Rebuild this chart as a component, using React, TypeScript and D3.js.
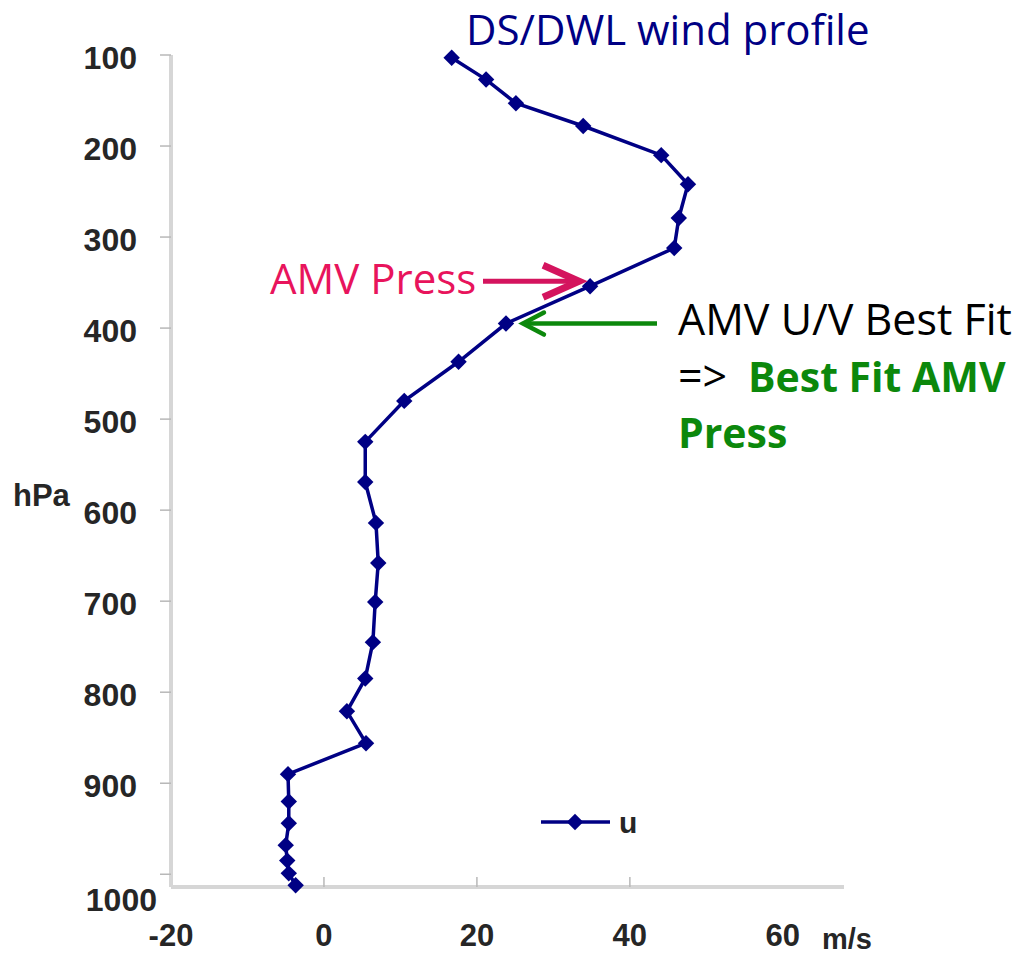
import React from "react";
import * as d3 from "d3";

const pressure = [103, 127, 153, 178, 210, 242, 279, 312, 354, 395, 437, 480, 525, 569, 614, 658, 701, 745, 785, 821, 856, 890, 920, 944, 968, 985, 999, 1012];
const windU = [16.7, 21.2, 25.1, 33.9, 44.1, 47.6, 46.4, 45.8, 34.8, 23.8, 17.6, 10.5, 5.4, 5.4, 6.8, 7.1, 6.7, 6.4, 5.4, 3.0, 5.5, -4.7, -4.6, -4.6, -5.0, -4.8, -4.6, -3.7];
const yTicks = [100, 200, 300, 400, 500, 600, 700, 800, 900, 1000];
const xTickLabels = [-20, 0, 20, 40, 60];
const xTickMarks = [0, 20, 40];
const seriesName = "u";
const title = "DS/DWL wind profile";
const amvPressIndex = 8;
const bestFitIndex = 9;

const W = 1023;
const H = 954;

export default function App() {
  const x = d3.scaleLinear().domain([-20, 68]).range([171, 844]);
  const y = d3.scaleLinear().domain([100, 1014]).range([55, 887]);
  const pts: [number, number][] = pressure.map((p, i) => [x(windU[i]), y(p)]);
  const line = d3.line()(pts) || "";
  const diamond = d3.symbol(d3.symbolSquare, 135)() || "";
  const axisColor = "#d6d6d6";
  const tickColor = "#b8b8b8";
  const labelFont = "'Liberation Sans', Arial, sans-serif";
  const calibri = "'Open Sans', 'Noto Sans', sans-serif";
  const navy = "#000084";

  const x0 = x(-20);
  const yBottom = y(1014);

  const [apx, apy] = pts[amvPressIndex];
  const [bfx, bfy] = pts[bestFitIndex];
  const pinkTipX = apx - 11;
  const pinkTipY = apy - 5;
  const greenTipX = bfx + 17;
  const greenTipY = bfy;

  const legendY = 822;

  return (
    <svg width={W} height={H} style={{ position: "absolute", left: 0, top: 0, background: "#fff" }}>
      <line x1={x0} y1={y(100)} x2={x0} y2={yBottom} stroke={axisColor} strokeWidth={4} />
      <line x1={x0} y1={yBottom} x2={844} y2={yBottom} stroke={axisColor} strokeWidth={4} />
      {yTicks.map((v) => (
        <g key={v}>
          <line x1={x0 - 11} x2={x0} y1={y(v)} y2={y(v)} stroke={tickColor} strokeWidth={1.5} />
          <text
            x={137 + (v === 1000 ? 20 : 0)}
            y={y(v) + 3 + (v === 1000 ? 23 : 0)}
            textAnchor="end"
            dominantBaseline="central"
            fontFamily={labelFont}
            fontWeight="bold"
            fontSize={32}
            fill="#262626"
          >
            {v}
          </text>
        </g>
      ))}
      {xTickMarks.map((v) => (
        <line key={v} x1={x(v)} x2={x(v)} y1={yBottom - 10} y2={yBottom} stroke={tickColor} strokeWidth={1.5} />
      ))}
      {xTickLabels.map((v) => (
        <text
          key={v}
          x={x(v)}
          y={935}
          textAnchor="middle"
          dominantBaseline="central"
          fontFamily={labelFont}
          fontWeight="bold"
          fontSize={31}
          fill="#262626"
        >
          {v}
        </text>
      ))}
      <text x={822} y={939} dominantBaseline="central" fontFamily={labelFont} fontWeight="bold" fontSize={29} fill="#262626">
        m/s
      </text>
      <text x={13} y={495} dominantBaseline="central" fontFamily={labelFont} fontWeight="bold" fontSize={31} fill="#262626">
        hPa
      </text>

      <path d={line} fill="none" stroke={navy} strokeWidth={3.5} />
      {pts.map(([px, py], i) => (
        <path key={i} d={diamond} transform={`translate(${px},${py}) rotate(45)`} fill={navy} />
      ))}

      <line x1={541} x2={610} y1={legendY} y2={legendY} stroke={navy} strokeWidth={3.5} />
      <path d={diamond} transform={`translate(575,${legendY}) rotate(45)`} fill={navy} />
      <text x={619} y={legendY} dominantBaseline="central" fontFamily={labelFont} fontWeight="bold" fontSize={30} fill="#262626">
        {seriesName}
      </text>

      <text x={466} y={45} fontFamily={calibri} fontSize={42} fill={navy}>
        {title}
      </text>

      <text x={270} y={294} fontFamily={calibri} fontSize={42} fill="#e8145c">
        AMV Press
      </text>
      <line x1={483} x2={pinkTipX - 4} y1={pinkTipY} y2={pinkTipY} stroke="#d4145e" strokeWidth={5} />
      <path
        d={`M${pinkTipX - 36},${pinkTipY - 16} L${pinkTipX},${pinkTipY} L${pinkTipX - 36},${pinkTipY + 16}`}
        fill="none"
        stroke="#d4145e"
        strokeWidth={7}
        strokeLinejoin="miter"
      />

      <line x1={greenTipX + 2} x2={657} y1={greenTipY} y2={greenTipY} stroke="#0c880c" strokeWidth={4.5} />
      <path
        d={`M${greenTipX + 21},${greenTipY - 11} L${greenTipX},${greenTipY} L${greenTipX + 21},${greenTipY + 11}`}
        fill="none"
        stroke="#0c880c"
        strokeWidth={4.5}
        strokeLinecap="round"
        strokeLinejoin="miter"
      />
      <text x={678} y={335} fontFamily={calibri} fontSize={43} fill="#000">
        AMV U/V Best Fit
      </text>
      <text x={678} y={392} fontFamily={calibri} fontSize={43} fill="#000">
        {"=>"}
      </text>
      <text x={748} y={392} fontFamily={calibri} fontSize={41} fontWeight="bold" fill="#0c880c">
        Best Fit AMV
      </text>
      <text x={678} y={448} fontFamily={calibri} fontSize={41} fontWeight="bold" fill="#0c880c">
        Press
      </text>
    </svg>
  );
}
